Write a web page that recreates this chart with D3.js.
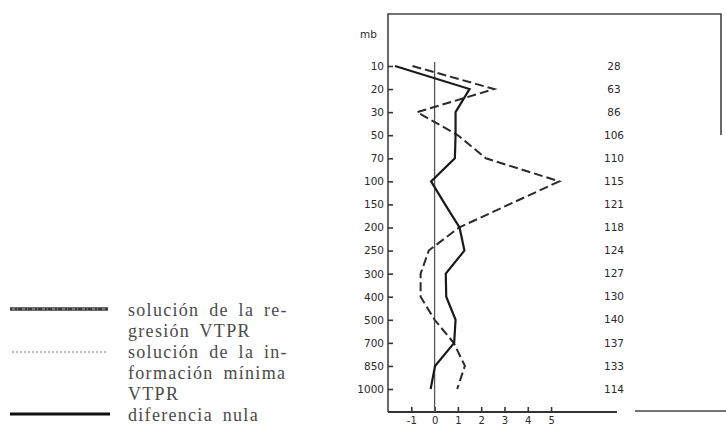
<!DOCTYPE html>
<html lang="es">
<head>
<meta charset="UTF-8">
<title>Perfil VTPR</title>
<script src="https://d3js.org/d3.v7.min.js"></script>
<style>
    body { margin: 0; padding: 0; background: #fff; }
    .tick text { font-family: "DejaVu Sans", sans-serif; font-size: 10.5px; fill: #2a2a2a; }
    .tick line { stroke: #333; stroke-width: 1.6; }
    .legend text { font-family: "Liberation Serif", serif; font-size: 18px; fill: #4a4a4a; letter-spacing: 1.3px; word-spacing: 4px; }
</style>
</head>
<body>
<div id="chart"></div>
<script>
    // pressure levels (mb) and the count column on the right
    const levels = ["10", "20", "30", "50", "70", "100", "150", "200", "250", "300", "400", "500", "700", "850", "1000"];
    const counts = [28, 63, 86, 106, 110, 115, 121, 118, 124, 127, 130, 140, 137, 133, 114];
    // solid line: regression solution, dashed line: minimum information solution
    const regression = [-1.7, 1.5, 0.9, 0.9, 0.87, -0.15, 0.45, 1.07, 1.28, 0.48, 0.5, 0.9, 0.84, 0.02, -0.17];
    const minInfo = [-0.95, 2.56, -0.75, 1.0, 2.2, 5.35, 3.2, 1.05, -0.25, -0.6, -0.6, 0.0, 0.82, 1.3, 0.97];
    const xTicks = [-1, 0, 1, 2, 3, 4, 5];
    const legendLines = [
        "solución de la re-",
        "gresión VTPR",
        "solución de la in-",
        "formación mínima",
        "VTPR",
        "diferencia nula"
    ];

    const W = 726, H = 426;
    const svg = d3.select("#chart").append("svg")
        .attr("width", W)
        .attr("height", H);

    const plotLeft = 388, plotRight = 617, plotTop = 14, plotBottom = 412;

    const x = d3.scaleLinear().domain([-2, 7.83]).range([plotLeft, plotRight]);
    const y = d3.scalePoint().domain(levels).range([66, 389]);

    // frame
    const frame = svg.append("g").attr("fill", "none");
    frame.append("path")
        .attr("d", `M${plotLeft},${plotBottom}V${plotTop}H721V135`)
        .attr("stroke", "#444").attr("stroke-width", 1.6);
    frame.append("line")
        .attr("x1", plotLeft).attr("x2", plotRight).attr("y1", plotBottom).attr("y2", plotBottom)
        .attr("stroke", "#333").attr("stroke-width", 2);
    frame.append("line")
        .attr("x1", 635).attr("x2", 726).attr("y1", 411).attr("y2", 411)
        .attr("stroke", "#444").attr("stroke-width", 1.6);

    // axes with inward ticks
    const gy = svg.append("g")
        .attr("transform", `translate(${plotLeft},0)`)
        .call(d3.axisLeft(y).tickSize(-5).tickPadding(4));
    gy.select(".domain").remove();

    const gx = svg.append("g")
        .attr("transform", `translate(0,${plotBottom})`)
        .call(d3.axisBottom(x).tickValues(xTicks).tickSize(-5).tickPadding(5)
            .tickFormat(d => String(d)));
    gx.select(".domain").remove();
    gx.selectAll(".tick text").style("font-size", "10px");

    svg.append("text")
        .attr("x", 360).attr("y", 38)
        .attr("font-family", "DejaVu Sans, sans-serif")
        .attr("font-size", 10.5).attr("fill", "#2a2a2a")
        .text("mb");

    // zero line
    svg.append("line")
        .attr("x1", x(0)).attr("x2", x(0))
        .attr("y1", 62).attr("y2", plotBottom)
        .attr("stroke", "#555").attr("stroke-width", 1.3);

    const line = d3.line()
        .x(d => x(d[1]))
        .y(d => y(d[0]));

    svg.append("path")
        .datum(levels.map((l, i) => [l, minInfo[i]]))
        .attr("d", line)
        .attr("fill", "none")
        .attr("stroke", "#2a2a2a")
        .attr("stroke-width", 2)
        .attr("stroke-dasharray", "9,4");

    svg.append("path")
        .datum(levels.map((l, i) => [l, regression[i]]))
        .attr("d", line)
        .attr("fill", "none")
        .attr("stroke", "#1a1a1a")
        .attr("stroke-width", 2.2)
        .attr("stroke-linejoin", "miter");

    // count column
    svg.append("g")
        .selectAll("text")
        .data(counts)
        .join("text")
        .attr("x", 614)
        .attr("y", (d, i) => y(levels[i]))
        .attr("dy", "0.35em")
        .attr("text-anchor", "middle")
        .attr("font-family", "DejaVu Sans, sans-serif")
        .attr("font-size", 10.5)
        .attr("fill", "#2a2a2a")
        .text(d => d);

    // legend
    const lg = svg.append("g").attr("class", "legend");
    const baselines = [316, 337, 358, 379, 400, 421];
    lg.selectAll("text")
        .data(legendLines)
        .join("text")
        .attr("x", 128)
        .attr("y", (d, i) => baselines[i])
        .text(d => d);

    // sample: regression (thick textured)
    lg.append("line")
        .attr("x1", 10).attr("x2", 108).attr("y1", 309).attr("y2", 309)
        .attr("stroke", "#3a3a3a").attr("stroke-width", 3.5);
    lg.append("line")
        .attr("x1", 12).attr("x2", 106).attr("y1", 309).attr("y2", 309)
        .attr("stroke", "#bbb").attr("stroke-width", 1)
        .attr("stroke-dasharray", "3,2,1,4");
    // sample: minimum information (dotted)
    lg.append("line")
        .attr("x1", 12).attr("x2", 108).attr("y1", 352).attr("y2", 352)
        .attr("stroke", "#777").attr("stroke-width", 1)
        .attr("stroke-dasharray", "2,2");
    // sample: zero difference
    lg.append("line")
        .attr("x1", 10).attr("x2", 110).attr("y1", 414).attr("y2", 414)
        .attr("stroke", "#111").attr("stroke-width", 3);
</script>
</body>
</html>
